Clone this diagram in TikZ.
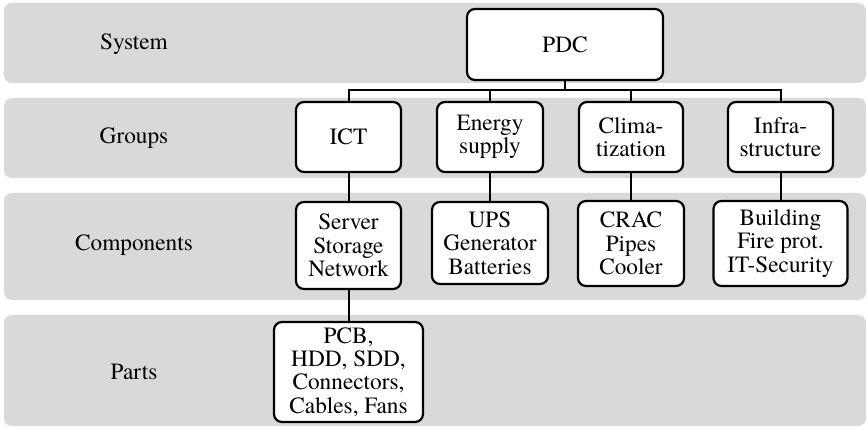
\documentclass[tikz,border=0pt]{standalone}
\usepackage{fontspec}
\setmainfont{texgyretermes-regular.otf}
\definecolor{bandgray}{RGB}{217,217,217}
\begin{document}
\begin{tikzpicture}[x=1pt,y=-1pt,
  font=\fontsize{23.3}{23.3}\selectfont,
  band/.style={fill=bandgray,draw=none,rounded corners=8pt},
  level/.style={text=black},
  item/.style={draw=black,fill=white,line width=2.2pt,rounded corners=8pt,
    align=center,inner sep=0pt},
  link/.style={draw=black,line width=2pt}]
\useasboundingbox (0,0) rectangle (868,427);

% horizontal level bands
\fill[band] (4,3) rectangle (866,83);
\fill[band] (4,98) rectangle (866,178);
\fill[band] (4,193) rectangle (866,300);
\fill[band] (4,315) rectangle (866,426);

% level names
\node[level] (lsys)  at (134,44)  {System};
\node[level] (lgrp)  at (134,138) {Groups};
\node[level] (lcomp) at (134,245) {Components};
\node[level] (lpart) at (134,372) {Parts};

% system
\node[item,minimum width=196pt,minimum height=71pt] (pdc) at (565,44.5) {PDC};

% groups
\node[item,minimum width=105pt,minimum height=70pt] (ict)   at (348.5,137) {ICT};
\node[item,minimum width=106pt,minimum height=70pt] (energy) at (490,137) {Energy\\supply};
\node[item,minimum width=104pt,minimum height=70pt] (clima) at (631,137) {Clima-\\tization};
\node[item,minimum width=105pt,minimum height=70pt] (infra) at (780.5,137) {Infra-\\structure};

% components
\node[item,minimum width=105pt,minimum height=87pt] (server) at (348.5,245.5) {Server\\Storage\\Network};
\node[item,minimum width=116pt,minimum height=82pt] (ups)    at (490,243) {UPS\\Generator\\Batteries};
\node[item,minimum width=106pt,minimum height=85pt] (crac)   at (631,243.5) {CRAC\\Pipes\\Cooler};
\node[item,minimum width=134pt,minimum height=85pt] (bldg)   at (780.5,243.5) {Building\\Fire prot.\\IT-Security};

% parts
\node[item,minimum width=149pt,minimum height=100pt] (parts) at (348.5,372) {PCB,\\HDD, SDD,\\Connectors,\\Cables, Fans};

% tree connectors
\coordinate (bus) at (565,90);
\draw[link] (pdc.south) -- (bus);
\draw[link] (ict.north) |- (bus);
\draw[link] (infra.north) |- (bus);
\draw[link] (energy.north) -- (energy.north |- bus);
\draw[link] (clima.north) -- (clima.north |- bus);
\draw[link] (ict.south) -- (server.north);
\draw[link] (energy.south) -- (ups.north);
\draw[link] (clima.south) -- (crac.north);
\draw[link] (infra.south) -- (bldg.north);
\draw[link] (server.south) -- (parts.north);
\end{tikzpicture}
\end{document}
